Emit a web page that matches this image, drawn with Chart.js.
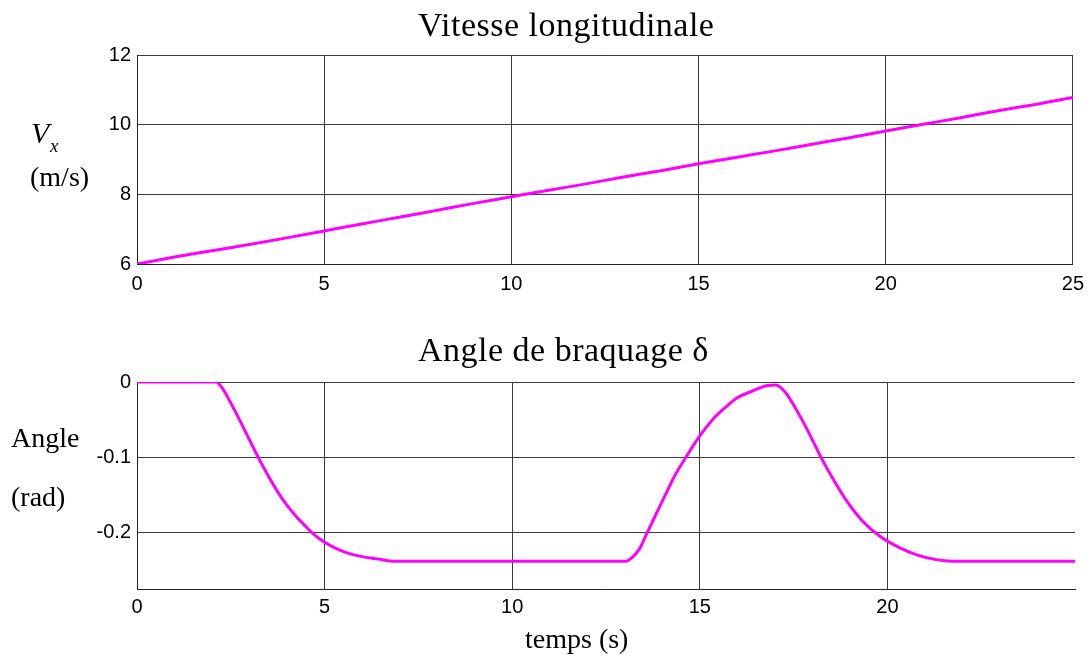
<!DOCTYPE html>
<html>
<head>
<meta charset="utf-8">
<script src="https://cdn.jsdelivr.net/npm/chart.js@4.4.1/dist/chart.umd.min.js"></script>
<style>
  body { margin: 0; background: #fff; width: 1092px; height: 661px; position: relative; overflow: hidden; }
  .pane { position: absolute; left: 0; width: 1092px; }
  .lbl { position: absolute; color: #000; white-space: nowrap; font-family: "Liberation Serif", serif; line-height: 1; }
  .title { font-size: 34px; letter-spacing: 0.5px; }
  .axis { font-size: 28px; }
</style>
</head>
<body>
<div class="pane" style="top:0;height:300px"><canvas id="vitesseChart"></canvas></div>
<div class="pane" style="top:300px;height:361px"><canvas id="braquageChart"></canvas></div>

<div class="lbl title" style="left:418px;top:8px">Vitesse longitudinale</div>
<div class="lbl" style="left:31px;top:118px;font-size:30px;font-style:italic">V</div>
<div class="lbl" style="left:50px;top:136px;font-size:19px;font-style:italic">x</div>
<div class="lbl axis" style="left:30px;top:163px">(m/s)</div>

<div class="lbl title" style="left:418px;top:333px">Angle de braquage δ</div>
<div class="lbl axis" style="left:11px;top:424px">Angle</div>
<div class="lbl axis" style="left:11px;top:483px">(rad)</div>
<div class="lbl axis" style="left:525px;top:625px">temps (s)</div>

<script>
// vitesse longitudinale Vx (m/s), one sample per second
const tempsV = [0, 1, 2, 3, 4, 5, 6, 7, 8, 9, 10, 11, 12, 13, 14, 15, 16, 17, 18, 19, 20, 21, 22, 23, 24, 25];
const vitesse = [6.0, 6.2, 6.38, 6.56, 6.75, 6.95, 7.15, 7.34, 7.54, 7.74, 7.93, 8.12, 8.3, 8.5, 8.68,
                 8.88, 9.06, 9.24, 9.43, 9.62, 9.82, 10.01, 10.2, 10.4, 10.58, 10.78];

// angle de braquage delta (rad)
const tempsDelta = [0, 2.1, 2.3, 2.5, 2.75, 3.0, 3.23, 3.5, 3.75, 4.0, 4.25, 4.5, 4.66, 5.0, 5.3, 5.6, 6.0, 6.4, 6.8,
                    13.03, 13.2, 13.4, 13.6, 13.85, 14.1, 14.35, 14.63, 15.0, 15.34, 15.7, 16.0, 16.4, 16.77,
                    17.03, 17.3, 17.55, 17.83, 18.23, 18.54, 18.9, 19.34, 19.8, 20.32, 20.8, 21.3, 21.73, 25];
const delta = [0, 0, -0.01, -0.028, -0.052, -0.077, -0.1, -0.125, -0.146, -0.164, -0.179, -0.192, -0.2, -0.213,
               -0.221, -0.227, -0.232, -0.235, -0.238,
               -0.238, -0.233, -0.221, -0.2, -0.174, -0.148, -0.123, -0.1, -0.0717, -0.05, -0.033, -0.021, -0.012, -0.005,
               -0.004, -0.015, -0.035, -0.06, -0.1, -0.128, -0.157, -0.185, -0.205, -0.22, -0.23, -0.236, -0.238, -0.238];

const ticksV = [6, 8, 10, 12];
const ticksDelta = [-0.2, -0.1, 0];
const ticksTempsHaut = [0, 5, 10, 15, 20, 25];
const ticksTempsBas = [0, 5, 10, 15, 20];

const MAGENTA = "#ff00ff";
const GRID = "#3a3a3a";
const tickFont = { family: "'Liberation Sans', Arial, sans-serif", size: 20 };

function toPoints(xs, ys) {
  return xs.map((x, i) => ({ x: x, y: ys[i] }));
}

function fixedTicks(values) {
  return function (scale) {
    scale.ticks = values.map(v => ({ value: v }));
  };
}

function makeChart(canvasId, opts) {
  return new Chart(document.getElementById(canvasId), {
    type: "line",
    data: {
      datasets: [{
        data: opts.points,
        borderColor: MAGENTA,
        borderWidth: 3,
        pointRadius: 0,
        cubicInterpolationMode: "monotone",
        fill: false
      }]
    },
    options: {
      responsive: true,
      maintainAspectRatio: false,
      animation: false,
      layout: { padding: { top: opts.padTop, right: 17, left: 0, bottom: 0 } },
      plugins: { legend: { display: false }, tooltip: { enabled: false }, title: { display: false } },
      scales: {
        x: {
          type: "linear",
          min: 0,
          max: 25,
          afterBuildTicks: fixedTicks(opts.xTicks),
          afterFit: s => { s.height = opts.xHeight; },
          grid: { color: GRID, lineWidth: 1, drawTicks: false },
          border: { display: true, color: "#222", width: 1 },
          ticks: { color: "#000", font: tickFont, padding: opts.xPad, maxRotation: 0 }
        },
        y: {
          type: "linear",
          min: opts.yMin,
          max: opts.yMax,
          afterBuildTicks: fixedTicks(opts.yTicks),
          afterFit: s => { s.width = 137; },
          grid: { color: GRID, lineWidth: 1, drawTicks: false },
          border: { display: true, color: "#222", width: 1 },
          ticks: { color: "#000", font: tickFont, padding: 6 }
        }
      }
    }
  });
}

makeChart("vitesseChart", {
  points: toPoints(tempsV, vitesse),
  yMin: 6, yMax: 12, yTicks: ticksV, xTicks: ticksTempsHaut,
  padTop: 55, xHeight: 36, xPad: 8
});

makeChart("braquageChart", {
  points: toPoints(tempsDelta, delta),
  yMin: -0.275, yMax: 0, yTicks: ticksDelta, xTicks: ticksTempsBas,
  padTop: 82, xHeight: 72, xPad: 6
});
</script>
</body>
</html>
